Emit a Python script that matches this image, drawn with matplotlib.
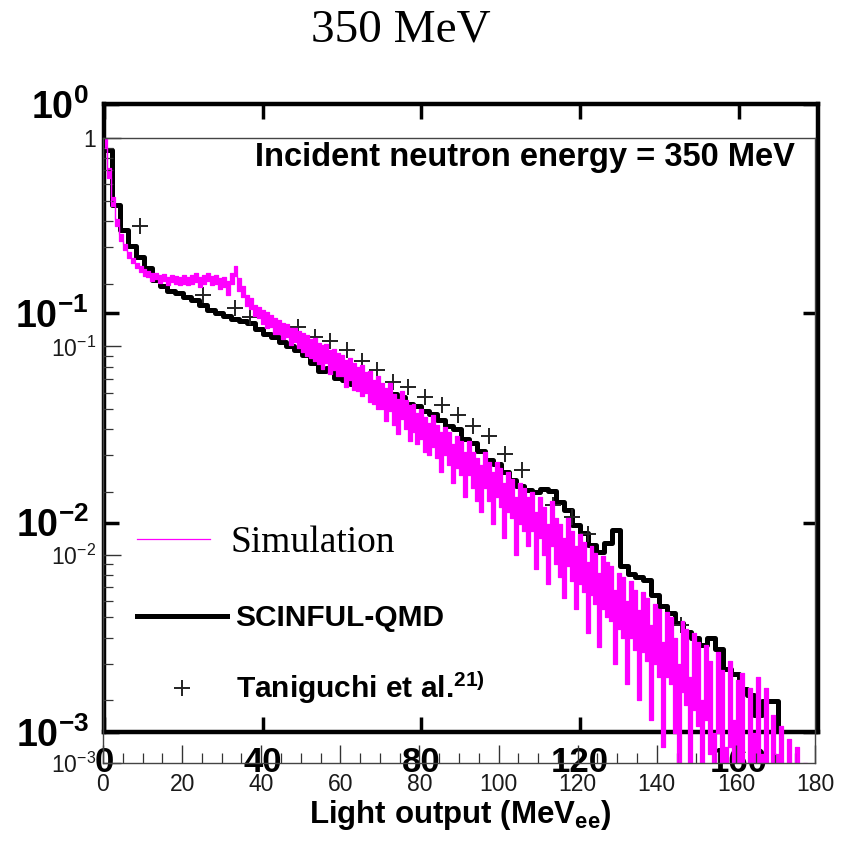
import numpy as np
import matplotlib
matplotlib.use('Agg')
import matplotlib.pyplot as plt
from matplotlib.ticker import MultipleLocator, NullLocator, NullFormatter

plt.rcParams['font.family'] = 'Liberation Sans'
plt.rcParams['mathtext.fontset'] = 'custom'
plt.rcParams['mathtext.rm'] = 'Liberation Sans'
plt.rcParams['mathtext.bf'] = 'Liberation Sans:bold'
plt.rcParams['mathtext.it'] = 'Liberation Sans:italic'

# ---- scanned reference figure (SCINFUL-QMD and Taniguchi data), 2 MeV bins ----
scinful_x = np.arange(1, 172, 2)
scinful_y = [0.60, 0.33, 0.25, 0.21, 0.185, 0.165, 0.145, 0.135, 0.128, 0.125,
             0.12, 0.116, 0.11, 0.104, 0.10, 0.097, 0.094, 0.092, 0.090, 0.084,
             0.080, 0.077, 0.073, 0.070, 0.067, 0.063, 0.058, 0.053, 0.055, 0.049,
             0.048, 0.046, 0.044, 0.045, 0.043, 0.043, 0.041, 0.040, 0.037, 0.036,
             0.034, 0.033, 0.031, 0.029, 0.028, 0.025, 0.024, 0.022, 0.020, 0.019,
             0.0175, 0.016, 0.015, 0.0143, 0.014, 0.0145, 0.0142, 0.0125, 0.0115, 0.0097,
             0.0089, 0.0078, 0.0072, 0.0080, 0.0092, 0.0062, 0.0057, 0.0055, 0.0053, 0.0045,
             0.0040, 0.0037, 0.0033, 0.0030, 0.0028, 0.0026, 0.0028, 0.0025, 0.0020, 0.0019,
             0.0016, 0.0015, 0.0012, 0.0014, 0.0014, 0.0008]

tanig_x = [9.1, 25.0, 33.0, 36.8, 48.9, 53.2, 57.0, 61.3, 65.0, 68.8, 72.9, 76.6,
           80.9, 85.2, 89.2, 93.0, 97.0, 101.1, 105.4, 113.2, 118.0, 122.0, 145.4]
tanig_y = [0.261, 0.122, 0.106, 0.096, 0.086, 0.077, 0.0738, 0.0668, 0.0592, 0.0536,
           0.0470, 0.0445, 0.0398, 0.0365, 0.0327, 0.0290, 0.0259, 0.0213, 0.0178,
           0.0121, 0.0106, 0.0088, 0.00324]

# ---- overlaid simulation, 1 MeV bins: upper and lower edge of the noisy band ----
sim_x = np.arange(0.5, 180, 1.0)
sim_hi = [1.0, 0.72, 0.52, 0.41, 0.345, 0.31, 0.283, 0.266, 0.252, 0.242,
          0.234, 0.230, 0.224, 0.226, 0.219, 0.222, 0.216, 0.220, 0.218, 0.214,
          0.220, 0.216, 0.219, 0.224, 0.214, 0.221, 0.226, 0.217, 0.221, 0.212,
          0.214, 0.205, 0.226, 0.242, 0.212, 0.194, 0.176, 0.170, 0.158, 0.155,
          0.150, 0.146, 0.142, 0.137, 0.134, 0.130, 0.128, 0.123, 0.122, 0.118,
          0.116, 0.113, 0.109, 0.110, 0.104, 0.101, 0.103, 0.096, 0.097, 0.093,
          0.091, 0.086, 0.088, 0.083, 0.080, 0.081, 0.075, 0.076, 0.069, 0.072,
          0.067, 0.063, 0.067, 0.059, 0.056, 0.061, 0.055, 0.052, 0.053, 0.048,
          0.050, 0.046, 0.043, 0.047, 0.042, 0.039, 0.041, 0.039, 0.034, 0.037,
          0.035, 0.031, 0.035, 0.031, 0.029, 0.027, 0.031, 0.028, 0.025, 0.028,
          0.026, 0.022, 0.025, 0.023, 0.019, 0.022, 0.021, 0.019, 0.020, 0.016,
          0.019, 0.017, 0.014, 0.018, 0.015, 0.014, 0.012, 0.015, 0.013, 0.011,
          0.0125, 0.0115, 0.0092, 0.011, 0.0102, 0.0082, 0.0098, 0.0092, 0.0088, 0.0068,
          0.0082, 0.0078, 0.0060, 0.0075, 0.0068, 0.0054, 0.0066, 0.0062, 0.0046, 0.0058,
          0.0055, 0.0038, 0.0053, 0.0050, 0.0040, 0.0030, 0.0048, 0.0044, 0.0026, 0.0042,
          0.0038, 0.0020, 0.0037, 0.0031, 0.0014, 0.0034, 0.0028, 0.0012, 0.0031, 0.0016,
          0.0025, 0.0027, 0.0009, 0.0023, 0.0014, 0.0026, 0.0011, 0.0023, 0.0007, 0.0017,
          0.0011, 0.0015, 0.0006, 0.0013, 0.0004, 0.0012, 0.0005, 0.0010, 0.0002, 0.0002]
sim_lo = [0.90, 0.64, 0.47, 0.38, 0.322, 0.29, 0.266, 0.250, 0.238, 0.228,
          0.218, 0.214, 0.206, 0.210, 0.202, 0.205, 0.198, 0.203, 0.200, 0.196,
          0.200, 0.197, 0.199, 0.204, 0.193, 0.200, 0.205, 0.196, 0.199, 0.188,
          0.192, 0.176, 0.200, 0.218, 0.185, 0.172, 0.156, 0.151, 0.140, 0.137,
          0.128, 0.122, 0.124, 0.115, 0.114, 0.108, 0.111, 0.102, 0.105, 0.098,
          0.094, 0.090, 0.088, 0.085, 0.082, 0.078, 0.083, 0.074, 0.077, 0.072,
          0.072, 0.064, 0.069, 0.062, 0.061, 0.058, 0.060, 0.054, 0.053, 0.050,
          0.050, 0.044, 0.049, 0.042, 0.038, 0.045, 0.040, 0.035, 0.039, 0.034,
          0.036, 0.031, 0.030, 0.033, 0.029, 0.025, 0.030, 0.027, 0.022, 0.026,
          0.024, 0.019, 0.024, 0.021, 0.018, 0.016, 0.021, 0.018, 0.014, 0.019,
          0.017, 0.012, 0.016, 0.015, 0.010, 0.014, 0.013, 0.011, 0.013, 0.0085,
          0.012, 0.010, 0.0072, 0.011, 0.0090, 0.0078, 0.0062, 0.0088, 0.0075, 0.0055,
          0.0072, 0.0066, 0.0042, 0.0064, 0.0058, 0.0036, 0.0055, 0.0050, 0.0048, 0.0030,
          0.0044, 0.0040, 0.0024, 0.0040, 0.0035, 0.0020, 0.0034, 0.0031, 0.0016, 0.0030,
          0.0026, 0.0012, 0.0026, 0.0024, 0.0014, 0.0007, 0.0022, 0.0019, 0.0005, 0.0018,
          0.0015, 0.0003, 0.0016, 0.0011, 0.0002, 0.0014, 0.0009, 0.0001, 0.0012, 0.0002,
          0.0008, 0.0010, 0.0001, 0.0008, 0.0002, 0.0009, 0.0001, 0.0008, 0.0001, 0.0004,
          0.0001, 0.0003, 0.0001, 0.0002, 0.0001, 0.0001, 0.0001, 0.0001, 0.0001, 0.0001]

scan_xticks = [0, 40, 80, 120, 160]
scan_yticks = [1e-3, 1e-2, 1e-1, 1]
scan_ylabels = [r'$\mathbf{10^{-3}}$', r'$\mathbf{10^{-2}}$', r'$\mathbf{10^{-1}}$', r'$\mathbf{10^{0}}$']
over_xticks = list(range(0, 181, 20))
over_yticks = [1e-3, 1e-2, 1e-1, 1]
over_ylabels = [r'$10^{-3}$', r'$10^{-2}$', r'$10^{-1}$', '1']

MAGENTA = '#ff00ff'

fig = plt.figure(figsize=(8.56, 8.46), dpi=100)

# scanned figure underneath
ax_scan = fig.add_axes([0.1215, 0.1348, 0.834, 0.7423])
ax_scan.step(scinful_x, scinful_y, where='mid', color='black', lw=3.6, label='SCINFUL-QMD')
ax_scan.plot(tanig_x, tanig_y, '+', color='#222222', ms=12, mew=1.4,
             label=r'Taniguchi et al.$^{\mathbf{21)}}$')
ax_scan.set_yscale('log')
ax_scan.set_xlim(0, 180)
ax_scan.set_ylim(1e-3, 1)
ax_scan.yaxis.set_minor_locator(NullLocator())
ax_scan.set_yticks(scan_yticks)
ax_scan.set_yticklabels(scan_ylabels)
ax_scan.set_xticks(scan_xticks)
ax_scan.set_xticklabels([str(t) for t in scan_xticks], fontweight='bold')
ax_scan.tick_params(which='major', direction='in', length=11, width=2.5,
                    top=True, right=True, labelsize=27)
ax_scan.tick_params(axis='y', pad=11)
ax_scan.tick_params(axis='x', pad=10, labelsize=25)
for sp in ax_scan.spines.values():
    sp.set_linewidth(3.2)
ax_scan.set_xlabel(r'Light output (MeV$_{\mathbf{ee}}$)', fontsize=22.5, fontweight='bold')
ax_scan.xaxis.set_label_coords(0.499, -0.105)
ax_scan.text(0.968, 0.914, 'Incident neutron energy = 350 MeV', transform=ax_scan.transAxes,
             ha='right', va='center', fontsize=23.5, fontweight='bold')
ax_scan.legend(loc='center left', bbox_to_anchor=(137 / 856, 1 - 655 / 846),
               bbox_transform=fig.transFigure, frameon=False,
               prop={'size': 21.5, 'weight': 'bold'}, handlelength=3.0,
               handletextpad=0.3, labelspacing=1.25, borderpad=0, borderaxespad=0)

# simulation overlay on top
ax_over = fig.add_axes([0.1203, 0.0981, 0.8318, 0.7388])
ax_over.patch.set_alpha(0)
ax_over.fill_between(sim_x, sim_lo, sim_hi, step='mid', color=MAGENTA, lw=0)
ax_over.step(sim_x, sim_hi, where='mid', color=MAGENTA, lw=0.9, label='Simulation')
ax_over.step(sim_x, sim_lo, where='mid', color=MAGENTA, lw=0.9)
ax_over.set_yscale('log')
ax_over.set_xlim(0, 180)
ax_over.set_ylim(1e-3, 1)
ax_over.set_xticks(over_xticks)
ax_over.xaxis.set_minor_locator(MultipleLocator(5))
ax_over.set_yticks(over_yticks)
ax_over.set_yticklabels(over_ylabels)
ax_over.yaxis.set_minor_formatter(NullFormatter())
ax_over.tick_params(which='major', direction='in', length=13, width=1.0, color='#333333',
                    labelsize=16.5, labelcolor='#1a1a1a')
ax_over.tick_params(which='minor', direction='in', length=7, width=0.9, color='#333333')
ax_over.tick_params(axis='x', pad=7)
ax_over.tick_params(axis='y', pad=5)
for sp in ax_over.spines.values():
    sp.set_linewidth(1.0)
    sp.set_color('#444444')
ax_over.legend(loc='center left', bbox_to_anchor=(137 / 856, 1 - 543 / 846),
               bbox_transform=fig.transFigure, frameon=False,
               prop={'family': 'Liberation Serif', 'size': 27}, handlelength=1.95,
               handletextpad=0.55, borderpad=0, borderaxespad=0)

fig.text(401 / 856, 1 - 30 / 846, '350 MeV', ha='center', va='center',
         family='Liberation Serif', fontsize=34)

fig.savefig('out.png', dpi=100)
